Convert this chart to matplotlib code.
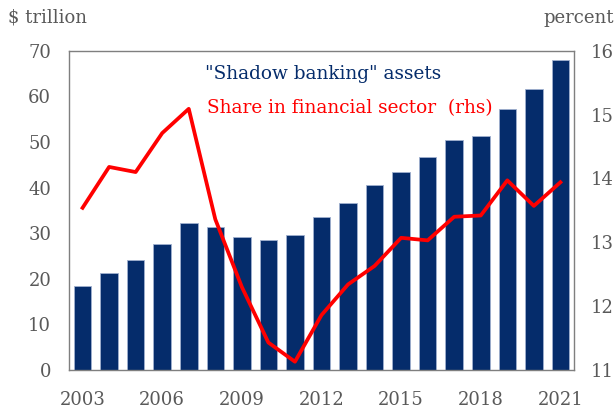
import matplotlib.pyplot as plt
import numpy as np

years = list(range(2003, 2022))
assets = [18.4, 21.2, 24.2, 27.7, 32.3, 31.3, 29.1, 28.6, 29.7, 33.5,
          36.6, 40.5, 43.4, 46.6, 50.5, 51.4, 57.2, 61.7, 67.9]
share = [13.54, 14.18, 14.10, 14.71, 15.09, 13.36, 12.30, 11.43, 11.13, 11.86,
         12.34, 12.63, 13.07, 13.03, 13.40, 13.42, 13.97, 13.57, 13.94]
tick_years = [2003, 2006, 2009, 2012, 2015, 2018, 2021]

navy = "#052c6b"
grey = "#595959"
plt.rcParams["font.family"] = ["DejaVu Serif"]

fig = plt.figure(figsize=(6.16, 4.08), dpi=100)
ax = fig.add_axes([0.1125, 0.0931, 0.8188, 0.7826])
x = np.arange(len(years))
ax.bar(x, assets, width=0.66, color=navy, edgecolor="#9fb0cf", linewidth=0.6, zorder=2)
ax.set_xlim(-0.5, len(years) - 0.5)
ax.set_ylim(0, 70)
ax.set_yticks(range(0, 71, 10))
ax.set_xticks([years.index(y) for y in tick_years])
ax.set_xticklabels([str(y) for y in tick_years])
ax.tick_params(length=0, labelsize=13, colors=grey, pad=13)
ax.tick_params(axis="x", pad=15)
for s in ax.spines.values():
    s.set_color("#7f7f7f")
    s.set_linewidth(1.0)

ax2 = ax.twinx()
ax2.plot(x, share, color="#ff0000", linewidth=2.7, zorder=3)
ax2.set_ylim(11, 16)
ax2.set_yticks(range(11, 17))
ax2.tick_params(length=0, labelsize=13, colors=grey, pad=12)
for s in ax2.spines.values():
    s.set_visible(False)

fig.text(0.013, 0.957, "$ trillion", fontsize=13, color=grey, va="center")
fig.text(0.997, 0.957, "percent", fontsize=13, color=grey, va="center", ha="right")
fig.text(0.333, 0.818, "\"Shadow banking\" assets", fontsize=13.3, color=navy, va="center")
fig.text(0.336, 0.735, "Share in financial sector  (rhs)", fontsize=13.3, color="#ff0000", va="center")

fig.savefig("out.png", dpi=100)
